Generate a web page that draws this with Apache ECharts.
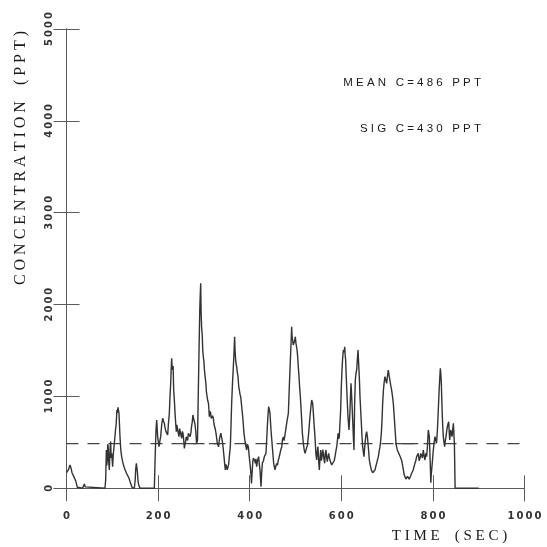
<!DOCTYPE html>
<html>
<head>
<meta charset="utf-8">
<script src="https://cdn.jsdelivr.net/npm/echarts@6/dist/echarts.min.js"></script>
<style>
  html, body { margin: 0; padding: 0; background: #fff; }
  #chart { width: 547px; height: 547px; }
</style>
</head>
<body>
<div id="chart"></div>
<script>
// ---- data ----
const timeSec = [
  0, 4, 7.6, 10, 12, 16, 20, 23.6, 26, 35,
  37, 39, 41, 42.6, 84, 85.5, 87, 88, 89, 90,
  91, 92, 93.5, 95, 96.4, 97.5, 98.6, 100.8, 102, 103.7,
  105, 107, 108.5, 110, 111, 112.4, 113.5, 114.6, 116.8, 118.5,
  120.4, 123, 125.5, 128, 131, 133.5, 136.5, 140, 143, 145,
  148, 150, 151, 152.5, 153.5, 154.7, 156, 157.6, 160.5, 191.8,
  193.2, 195.4, 196.9, 198, 199, 202, 204, 205.6, 208, 210,
  212, 213.6, 215.5, 217.3, 219, 220.9, 222.5, 224.5, 226, 227.5,
  228.5, 229.6, 230.5, 231.8, 232.8, 234, 235.5, 237, 238.5, 239.8,
  241, 242.7, 244, 245.6, 247, 248.5, 250, 251.5, 253, 254.4,
  256, 257.3, 258.5, 260, 261.5, 263, 264.5, 266, 268, 269.7,
  271.5, 273, 274.5, 276, 277.5, 279, 280.5, 282, 284, 286,
  289, 291, 292, 293, 294, 295, 296.5, 297.5, 298.7, 300,
  301, 302, 303, 304.3, 305.5, 307, 308.5, 310, 311, 311.8,
  313, 314.8, 316, 317.7, 319, 320.6, 322, 323.5, 325, 326.5,
  328, 329.3, 332, 333.5, 335, 337, 338.8, 341, 343.9, 345.5,
  346.8, 348, 349.7, 351, 352.6, 354, 355.5, 357.7, 359, 360.6,
  362.5, 364.3, 365.5, 367.1, 368, 369.3, 370.5, 371.5, 373, 374.5,
  376, 377.4, 379, 380.3, 381.5, 383.2, 384.7, 386, 387.5, 389,
  390.5, 393.3, 395, 397, 399, 402, 404, 405, 406.5, 408,
  409.8, 411, 412.3, 413.5, 415.2, 417, 419.5, 421, 422.5, 424.7,
  426, 427.6, 430, 432, 434, 435.6, 437, 438.5, 440, 441.4,
  443, 444.3, 446.5, 449.4, 452.3, 455.2, 457, 458.8, 460.5, 462.5,
  464, 466, 468, 470, 471.5, 473.4, 475, 477, 479, 480.7,
  482.5, 484.4, 486.5, 488, 489.4, 490.5, 491.6, 492.5, 493.8, 495,
  496.7, 498, 499.6, 501, 502.6, 503.5, 504.7, 506, 507.7, 509,
  510.6, 512, 513.5, 515, 517.1, 519, 520.8, 522.5, 524.5, 526,
  528, 530, 531.6, 533.5, 535.3, 536.5, 537.5, 539, 540.4, 542,
  543.3, 544.5, 546.2, 547.5, 549, 550.5, 552, 553.5, 555, 556.5,
  557.9, 559.5, 560.8, 562, 563.7, 565, 566.6, 568, 569.5, 571,
  572.4, 574, 575.3, 577, 579, 581, 582.6, 584.5, 586.3, 588,
  590, 591.5, 593, 594.5, 595.7, 597, 598.6, 600, 601.5, 603,
  604.5, 606, 607.4, 608.5, 609.5, 610.5, 611.7, 613, 614.6, 615.8,
  616.8, 618, 619, 620, 621.2, 622.2, 623.3, 624.5, 625.5, 626.5,
  627.7, 629, 630.6, 632, 633.6, 635, 636.5, 637.5, 638.6, 639.8,
  640.8, 642.3, 643.8, 645, 646.6, 648, 649.5, 651, 652.5, 654,
  655.4, 657, 658.3, 659.8, 661.2, 662.5, 664, 665.5, 667, 668.5,
  670, 672, 673.6, 675.5, 677.2, 679, 680.9, 682.5, 684.5, 686,
  687.4, 689, 690.3, 691.2, 692, 693.5, 695.4, 697, 699, 700.8,
  702.6, 704.3, 706, 708, 709.9, 711.8, 713.6, 715.3, 717, 719.4,
  722, 725.5, 729, 732, 733.8, 735.5, 737.2, 739, 741, 742.7,
  744.5, 746.4, 748.2, 750, 751.8, 753.6, 755.3, 757, 759, 760.8,
  762.6, 764.5, 766.2, 768, 770, 771.8, 773.6, 775.4, 777.2, 779,
  781, 782.7, 784.5, 786.3, 788, 790, 791, 792.2, 793.3, 794.4,
  795.5, 796.4, 797.3, 799, 800.9, 802.7, 804.6, 806.3, 808, 810,
  811.8, 813, 814, 815, 816.2, 817.3, 818.4, 819.5, 820.6, 821.7,
  822.8, 824.2, 825.7, 827.1, 828.6, 830, 831.6, 833, 834.5, 835.6,
  836.7, 837.8, 838.9, 840.3, 841.8, 843.3, 844.7, 845.8, 846.9, 848,
  848.5, 855, 856, 857, 885, 886, 887, 900
];
const concPpt = [
  170, 200, 254, 218, 170, 127, 83, 11, 0, 0,
  20, 47, 15, 0, 0, 90, 417, 250, 308, 480,
  453, 300, 200, 420, 508, 330, 381, 236, 360, 345,
  520, 635, 700, 852, 820, 881, 870, 816, 562, 420,
  345, 280, 236, 200, 163, 140, 109, 54, 11, 0,
  0, 90, 200, 272, 230, 181, 90, 36, 0, 0,
  272, 635, 744, 650, 562, 453, 520, 562, 700, 762,
  730, 707, 650, 617, 600, 580, 700, 816, 1000, 1143,
  1290, 1415, 1330, 1288, 1330, 1070, 960, 816, 700, 617,
  690, 671, 600, 562, 650, 635, 580, 544, 620, 598,
  520, 435, 470, 508, 560, 544, 520, 598, 610, 562,
  600, 671, 720, 798, 760, 744, 700, 635, 490, 520,
  1400, 1950, 2100, 2231, 1900, 1759, 1650, 1500, 1433, 1380,
  1300, 1288, 1200, 1143, 1050, 997, 950, 925, 850, 780,
  840, 816, 760, 744, 790, 762, 700, 707, 640, 598,
  540, 490, 453, 520, 562, 600, 580, 490, 345, 260,
  200, 260, 236, 200, 181, 260, 345, 453, 650, 925,
  1150, 1324, 1450, 1650, 1500, 1396, 1350, 1324, 1260, 1215,
  1110, 1070, 1020, 997, 940, 961, 780, 700, 598, 540,
  490, 417, 480, 453, 345, 200, 54, 150, 272, 330,
  345, 300, 272, 320, 236, 300, 345, 260, 200, 18,
  150, 272, 300, 345, 330, 381, 520, 671, 800, 889,
  850, 816, 635, 453, 272, 200, 240, 272, 250, 308,
  330, 345, 420, 453, 530, 560, 520, 580, 650, 707,
  760, 816, 1106, 1300, 1469, 1600, 1759, 1650, 1614, 1560,
  1541, 1600, 1650, 1580, 1578, 1500, 1433, 1330, 1215, 1100,
  997, 880, 744, 600, 490, 420, 381, 370, 399, 470,
  562, 680, 780, 880, 961, 940, 925, 820, 707, 600,
  490, 380, 308, 400, 453, 300, 200, 330, 417, 300,
  345, 420, 381, 320, 272, 380, 417, 330, 290, 350,
  381, 330, 308, 280, 254, 260, 236, 300, 345, 400,
  453, 520, 598, 540, 562, 700, 852, 1100, 1288, 1420,
  1505, 1480, 1541, 1450, 1396, 1250, 1106, 950, 780, 700,
  635, 740, 852, 1000, 1143, 1050, 925, 780, 671, 540,
  417, 900, 1179, 1250, 1288, 1400, 1505, 1400, 1288, 1150,
  997, 850, 707, 580, 453, 400, 345, 440, 526, 590,
  617, 560, 490, 400, 308, 270, 236, 200, 181, 170,
  163, 180, 200, 240, 272, 310, 345, 400, 453, 520,
  598, 750, 925, 1000, 1070, 1150, 1215, 1180, 1143, 1220,
  1288, 1230, 1179, 1120, 1070, 1000, 925, 800, 671, 490,
  420, 400, 340, 300, 250, 200, 150, 127, 100, 91,
  130, 145, 100, 109, 140, 163, 180, 200, 240, 272,
  300, 345, 330, 381, 300, 326, 380, 363, 330, 417,
  350, 308, 380, 345, 450, 635, 600, 562, 400, 236,
  60, 150, 200, 300, 417, 500, 562, 520, 490, 650,
  852, 1000, 1106, 1200, 1306, 1250, 1143, 950, 780, 650,
  562, 500, 453, 520, 562, 620, 671, 700, 725, 620,
  526, 580, 635, 600, 562, 640, 707, 600, 490, 480,
  0, 0, 8, 0, 0, 6, 0, 0
];
const meanConc = 486;
const sigConc = 430;
// solid segments drawn at the mean level
const segStart = [255, 311, 717];
const segEnd   = [284, 335, 768];
const xTicks = [0, 200, 400, 600, 800, 1000];
const yTicks = [0, 1000, 2000, 3000, 4000, 5000];

// ---- build series data ----
const traceData = timeSec.map((t, i) => [t, concPpt[i]]);
const segData = [];
segStart.forEach((s, i) => {
  segData.push([s, meanConc], [segEnd[i], meanConc], [segEnd[i], null]);
});

const spaced = (s, sep) => String(s).split('').join(sep);
const lineCol = '#5a5a5a';
const tickLabel = {
  fontFamily: 'DejaVu Sans', fontWeight: 'bold', fontSize: 10, color: '#333',
  formatter: v => spaced(v, '\u2009')
};

const chart = echarts.init(document.getElementById('chart'), null, { renderer: 'canvas' });
const axisCommon = {
  type: 'value',
  splitLine: { show: false },
  axisLine: { show: true, lineStyle: { color: lineCol, width: 1 } },
  axisTick: { show: true, inside: true, length: 13, lineStyle: { color: lineCol, width: 1 } }
};

chart.setOption({
  animation: false,
  backgroundColor: '#fff',
  grid: { left: 66.5, right: 22.5, top: 29, bottom: 58.7, containLabel: false },
  xAxis: [
    Object.assign({}, axisCommon, {
      position: 'bottom', min: 0, max: 1000, interval: 200,
      axisLabel: Object.assign({ margin: 23 }, tickLabel)
    }),
    Object.assign({}, axisCommon, {
      position: 'top', min: 0, max: 1000, interval: 200,
      axisLabel: { show: false }
    })
  ],
  yAxis: [
    Object.assign({}, axisCommon, {
      position: 'left', min: 0, max: 5000, interval: 1000,
      axisLabel: Object.assign({ rotate: 90, margin: 12, align: 'center', verticalAlign: 'bottom' }, tickLabel)
    }),
    Object.assign({}, axisCommon, {
      position: 'right', min: 0, max: 5000, interval: 1000,
      axisLabel: { show: false }
    })
  ],
  series: [
    {
      name: 'mean', type: 'line', xAxisIndex: 0, yAxisIndex: 0,
      data: [[0, meanConc], [1000, meanConc]],
      showSymbol: false, silent: true,
      lineStyle: { color: '#444', width: 1.1, type: [12, 9] }
    },
    {
      name: 'segments', type: 'line', xAxisIndex: 0, yAxisIndex: 0,
      data: segData, showSymbol: false, connectNulls: false, silent: true,
      lineStyle: { color: '#444', width: 1.1 }
    },
    {
      name: 'concentration', type: 'line', xAxisIndex: 0, yAxisIndex: 0,
      data: traceData, showSymbol: false, silent: true,
      lineStyle: { color: '#333', width: 1.4 }
    }
  ],
  graphic: [
    {
      type: 'text', x: 481, y: 83,
      style: {
        text: 'M E A N   C = 4 8 6   P P T', fontFamily: 'Liberation Sans', fontSize: 11.5,
        fill: '#1a1a1a', align: 'right', verticalAlign: 'middle'
      }
    },
    {
      type: 'text', x: 481, y: 129,
      style: {
        text: 'S I G   C = 4 3 0   P P T', fontFamily: 'Liberation Sans', fontSize: 11.5,
        fill: '#1a1a1a', align: 'right', verticalAlign: 'middle'
      }
    },
    {
      type: 'text', x: 449.5, y: 536,
      style: {
        text: 'T I M E    ( S E C )', fontFamily: 'Liberation Serif', fontSize: 15,
        fill: '#1a1a1a', align: 'center', verticalAlign: 'middle'
      }
    },
    {
      type: 'text', x: 21, y: 158, rotation: Math.PI / 2,
      style: {
        text: 'C O N C E N T R A T I O N    ( P P T )', fontFamily: 'Liberation Serif', fontSize: 16,
        fill: '#1a1a1a', align: 'center', verticalAlign: 'middle'
      }
    }
  ]
});
</script>
</body>
</html>
